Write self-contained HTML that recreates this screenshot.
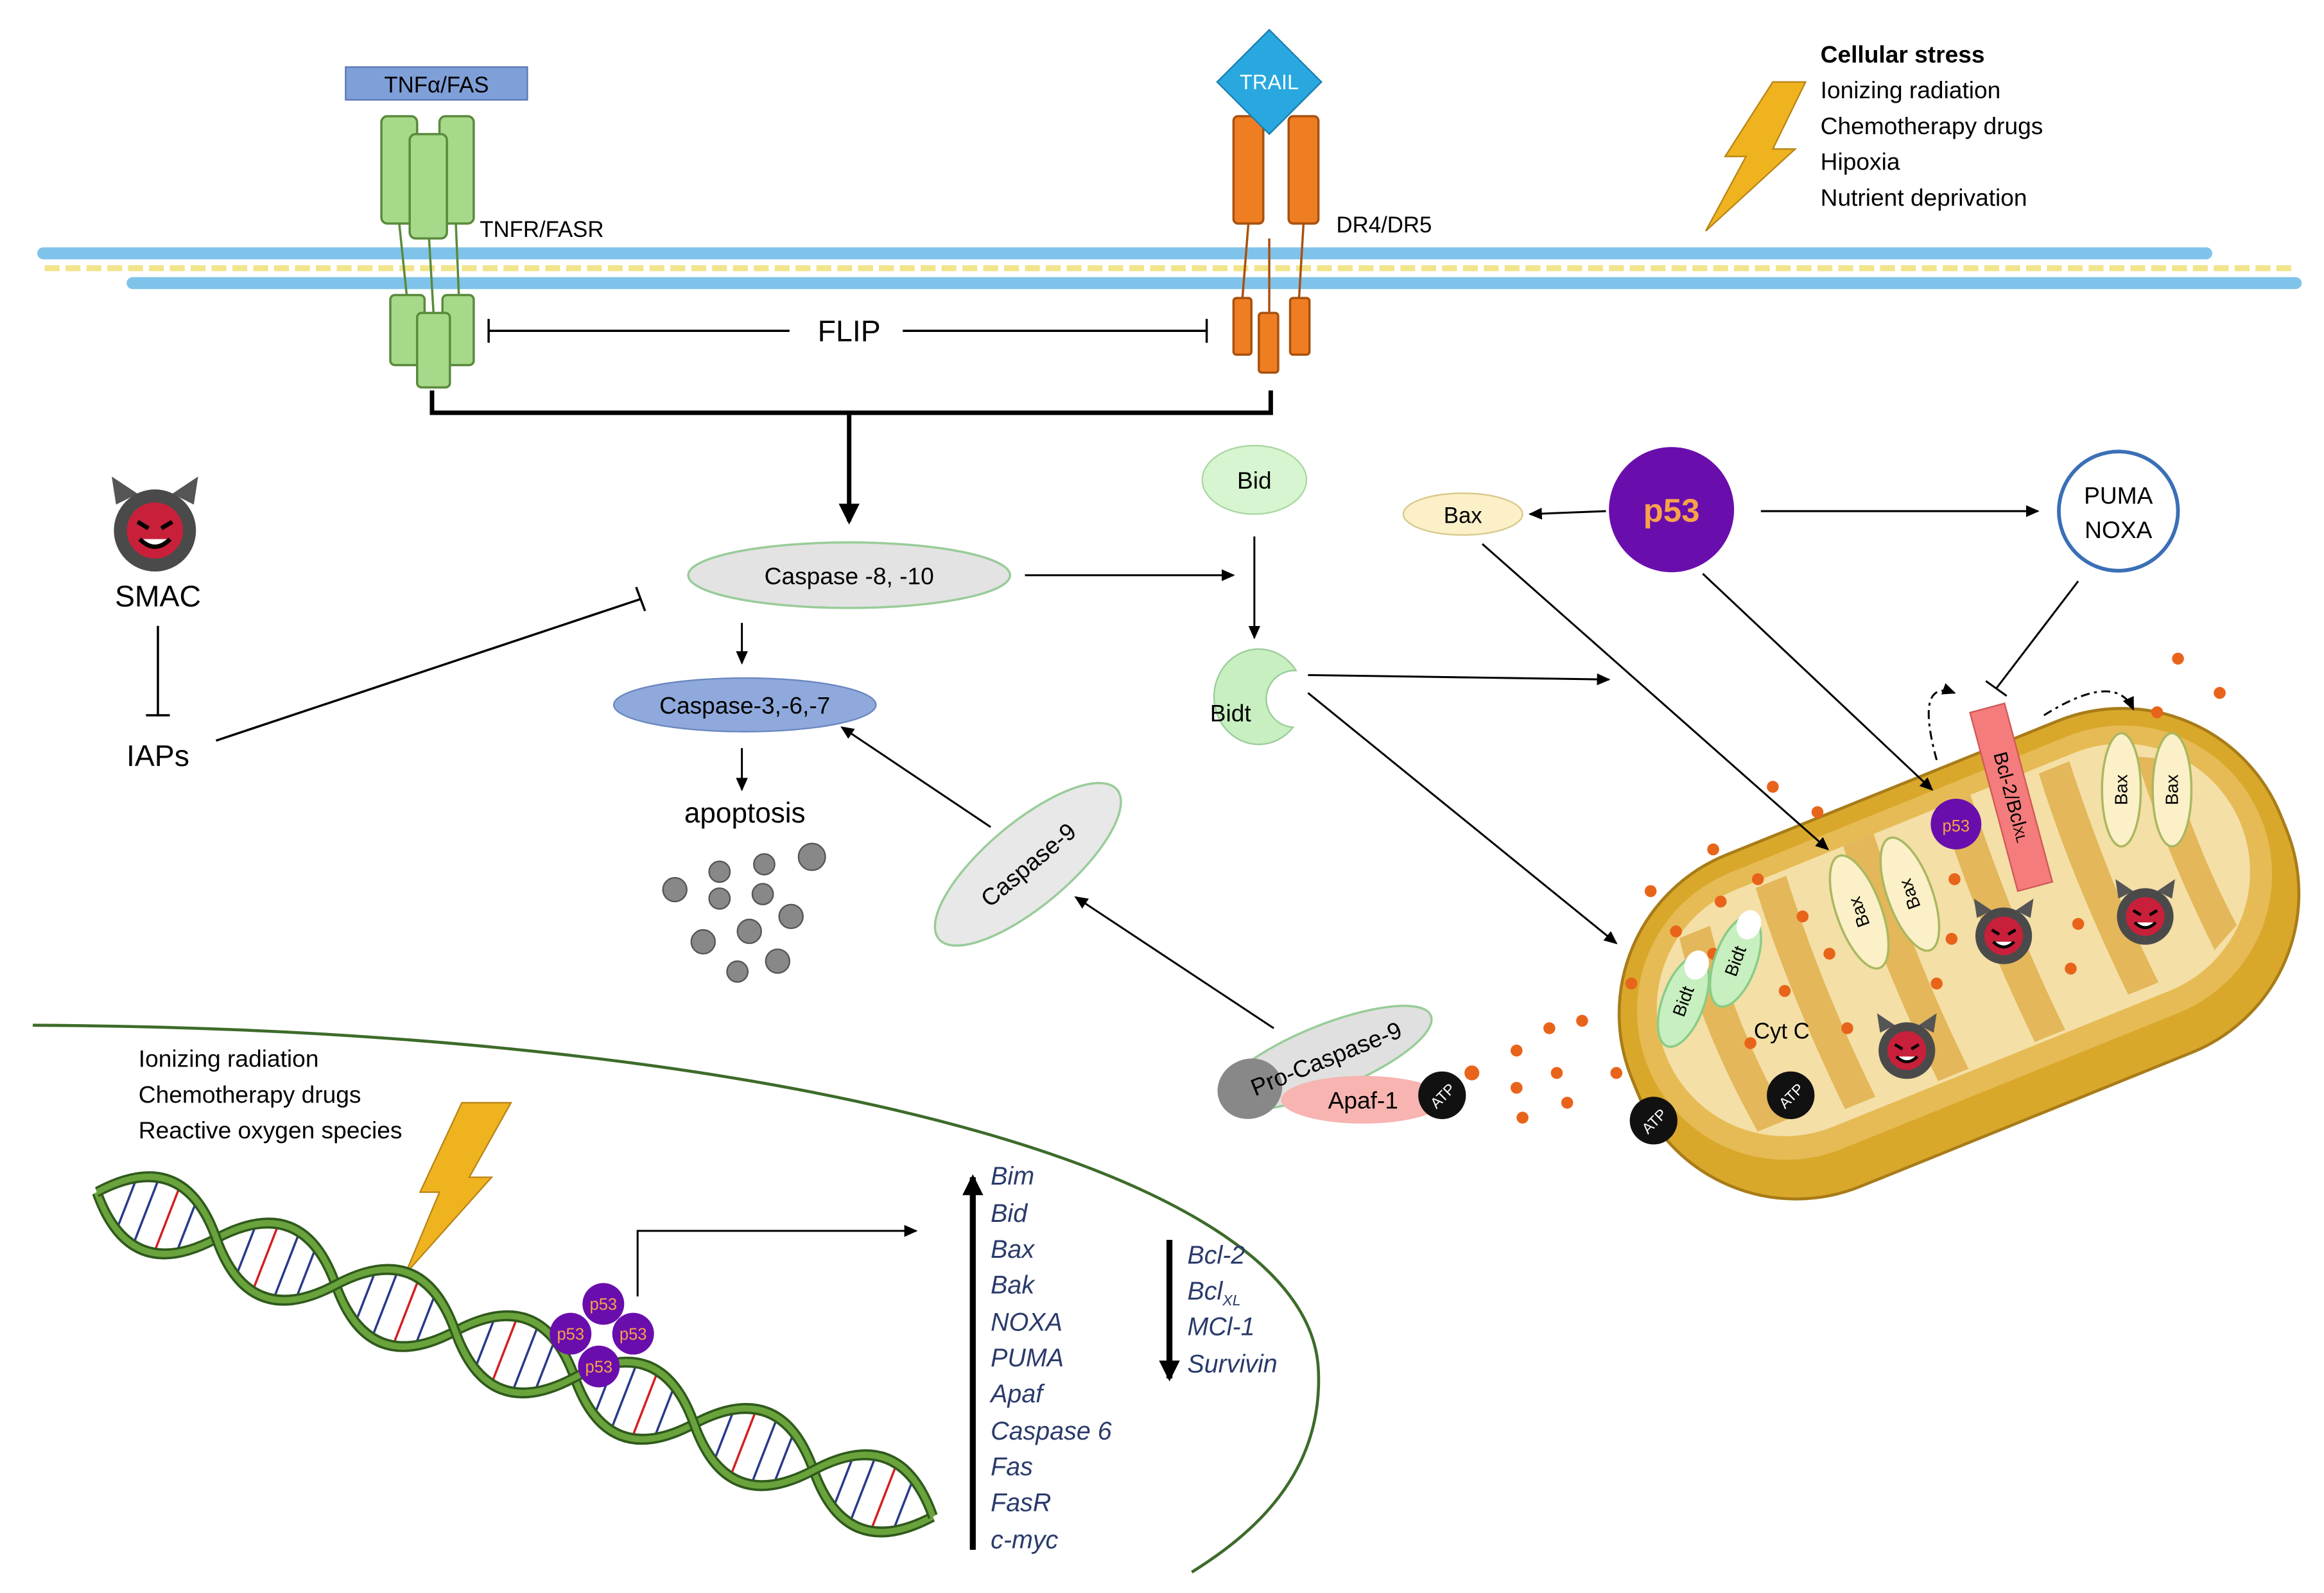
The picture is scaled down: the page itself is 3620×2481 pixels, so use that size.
<!DOCTYPE html>
<html><head><meta charset="utf-8"><style>
html,body{margin:0;padding:0;background:#fff;}
svg{display:block;}
text{font-family:"Liberation Sans",sans-serif;}
</style></head><body>
<svg width="3620" height="2481" viewBox="0 0 1560 1069" preserveAspectRatio="none" xmlns="http://www.w3.org/2000/svg">
<defs>
<marker id="ah" markerWidth="10" markerHeight="10" refX="8" refY="5" orient="auto" markerUnits="userSpaceOnUse"><path d="M0,1 L9,5 L0,9 Z" fill="#000"/></marker>
<marker id="ahb" markerWidth="16" markerHeight="16" refX="12" refY="8" orient="auto" markerUnits="userSpaceOnUse"><path d="M0,1 L14,8 L0,15 Z" fill="#000"/></marker>
<g id="devil"><path d="M-18,-12 L-20,-25 L-8,-17 Z M18,-12 L20,-25 L8,-17 Z" fill="#555"/><circle r="19" fill="#4a4a4a"/><circle r="13" fill="#c8203a"/><path d="M-8,-4 L-3,-1 M8,-4 L3,-1" stroke="#000" stroke-width="2"/><path d="M-7,4 Q0,11 7,4" stroke="#000" stroke-width="2" fill="#fff"/></g>
<g id="atp"><circle r="16" fill="#111"/><text x="0" y="4" font-size="10" fill="#fff" text-anchor="middle" transform="rotate(-45)">ATP</text></g>
</defs>

<rect x="25" y="166" width="1460" height="8" rx="4" fill="#7fc3ea"/>
<rect x="85" y="186" width="1460" height="8" rx="4" fill="#7fc3ea"/>
<line x1="30" y1="180" x2="1540" y2="180" stroke="#f1e48a" stroke-width="4" stroke-dasharray="10 4"/>

<rect x="232" y="45" width="122" height="22" fill="#7f9fd8" stroke="#5a78b8"/>
<text x="293" y="62" font-size="15" text-anchor="middle">TNFα/FAS</text>
<g fill="#a6d98a" stroke="#5a8a3c" stroke-width="1.5">
<line x1="268" y1="150" x2="273" y2="198"/><line x1="288" y1="160" x2="291" y2="210"/><line x1="306" y1="150" x2="308" y2="198"/>
<rect x="256" y="78" width="24" height="72" rx="4"/><rect x="295" y="78" width="23" height="72" rx="4"/><rect x="275" y="90" width="25" height="70" rx="4"/>
<rect x="262" y="198" width="23" height="47" rx="3"/><rect x="297" y="198" width="21" height="47" rx="3"/><rect x="280" y="210" width="22" height="50" rx="3"/>
</g>
<text x="322" y="159" font-size="15">TNFR/FASR</text>

<g fill="#ef7d22" stroke="#a8510f" stroke-width="1.5">
<line x1="838" y1="150" x2="834" y2="200"/><line x1="852" y1="160" x2="852" y2="210"/><line x1="875" y1="150" x2="872" y2="200"/>
<rect x="828" y="78" width="20" height="72" rx="3"/><rect x="865" y="78" width="20" height="72" rx="3"/>
<rect x="828" y="200" width="12" height="38" rx="2"/><rect x="845" y="210" width="13" height="40" rx="2"/><rect x="866" y="200" width="13" height="38" rx="2"/>
</g>
<path d="M852,20 L887,55 L852,90 L817,55 Z" fill="#29a8e0" stroke="#1a7fb0"/>
<text x="852" y="60" font-size="14" text-anchor="middle" fill="#fff">TRAIL</text>
<text x="897" y="156" font-size="15">DR4/DR5</text>

<g stroke="#000" stroke-width="1.5">
<line x1="328" y1="222" x2="530" y2="222"/><line x1="328" y1="214" x2="328" y2="230"/>
<line x1="606" y1="222" x2="810" y2="222"/><line x1="810" y1="214" x2="810" y2="230"/>
</g>
<text x="570" y="229" font-size="20" text-anchor="middle">FLIP</text>
<path d="M290,262 L290,277 L853,277 L853,262" fill="none" stroke="#000" stroke-width="3"/>
<line x1="570" y1="277" x2="570" y2="350" stroke="#000" stroke-width="3" marker-end="url(#ahb)"/>

<path d="M1190,55 L1212,55 L1190,100 L1205,100 L1145,155 L1172,105 L1158,105 Z" fill="#f0b320" stroke="#b98515"/>
<text x="1222" y="42" font-size="16" font-weight="bold">Cellular stress</text>
<text x="1222" y="66" font-size="16">Ionizing radiation</text>
<text x="1222" y="90" font-size="16">Chemotherapy drugs</text>
<text x="1222" y="114" font-size="16">Hipoxia</text>
<text x="1222" y="138" font-size="16">Nutrient deprivation</text>

<g transform="translate(104,356) scale(1.45)"><use href="#devil"/></g>
<text x="106" y="407" font-size="20" text-anchor="middle">SMAC</text>
<g stroke="#000" stroke-width="1.5">
<line x1="106" y1="420" x2="106" y2="480"/><line x1="98" y1="480" x2="114" y2="480"/>
<line x1="145" y1="497" x2="430" y2="402"/><line x1="427" y1="394" x2="433" y2="410"/>
</g>
<text x="106" y="514" font-size="20" text-anchor="middle">IAPs</text>

<ellipse cx="570" cy="386" rx="108" ry="22" fill="#e3e3e3" stroke="#9c9" stroke-width="1.5"/>
<text x="570" y="392" font-size="16" text-anchor="middle">Caspase -8, -10</text>
<line x1="688" y1="386" x2="828" y2="386" stroke="#000" stroke-width="1.3" marker-end="url(#ah)"/>
<line x1="498" y1="418" x2="498" y2="445" stroke="#000" stroke-width="1.3" marker-end="url(#ah)"/>
<ellipse cx="500" cy="473" rx="88" ry="18" fill="#8fa9dc" stroke="#6a86c0"/>
<text x="500" y="479" font-size="16" text-anchor="middle">Caspase-3,-6,-7</text>
<line x1="498" y1="502" x2="498" y2="530" stroke="#000" stroke-width="1.3" marker-end="url(#ah)"/>
<text x="500" y="552" font-size="19" text-anchor="middle">apoptosis</text>
<g fill="#888" stroke="#555">
<circle cx="453" cy="597" r="8"/><circle cx="483" cy="585" r="7"/><circle cx="513" cy="580" r="7"/><circle cx="545" cy="575" r="9"/>
<circle cx="483" cy="603" r="7"/><circle cx="512" cy="600" r="7"/><circle cx="472" cy="632" r="8"/><circle cx="503" cy="625" r="8"/>
<circle cx="531" cy="615" r="8"/><circle cx="495" cy="652" r="7"/><circle cx="522" cy="645" r="8"/>
</g>

<ellipse cx="842" cy="322" rx="35" ry="23" fill="#d6f5d0" stroke="#a8d8a0"/>
<text x="842" y="328" font-size="16" text-anchor="middle">Bid</text>
<line x1="842" y1="360" x2="842" y2="428" stroke="#000" stroke-width="1.3" marker-end="url(#ah)"/>
<path d="M870,450 A30,32 0 1 0 868,488 A16,16 0 0 1 870,450 Z" fill="#c8efc0" stroke="#9c9"/>
<text x="826" y="484" font-size="16" text-anchor="middle">Bidt</text>

<ellipse cx="982" cy="345" rx="40" ry="14" fill="#fbf0c8" stroke="#d8c888"/>
<text x="982" y="351" font-size="15" text-anchor="middle">Bax</text>
<line x1="1078" y1="343" x2="1027" y2="345" stroke="#000" stroke-width="1.3" marker-end="url(#ah)"/>
<circle cx="1122" cy="342" r="42" fill="#6a0dad"/>
<text x="1122" y="350" font-size="22" font-weight="bold" fill="#f7a24a" text-anchor="middle">p53</text>
<line x1="1182" y1="343" x2="1368" y2="343" stroke="#000" stroke-width="1.3" marker-end="url(#ah)"/>
<circle cx="1422" cy="343" r="40" fill="#fff" stroke="#3b6fb6" stroke-width="2.5"/>
<text x="1422" y="338" font-size="16" text-anchor="middle">PUMA</text>
<text x="1422" y="361" font-size="16" text-anchor="middle">NOXA</text>
<g stroke="#000" stroke-width="1.3"><line x1="1395" y1="390" x2="1340" y2="462"/><line x1="1333" y1="457" x2="1347" y2="467"/></g>

<g transform="translate(1315,640) rotate(-22)">
<rect x="-235" y="-120" width="470" height="240" rx="115" fill="#d9a82b" stroke="#a87c18" stroke-width="2"/>
<rect x="-222" y="-108" width="444" height="200" rx="100" fill="#e6bb55"/>
<rect x="-208" y="-96" width="416" height="172" rx="86" fill="#f4dfa6"/>
<g fill="#e3b75a">
<path d="M-170,-80 q-10,60 0,140 l22,0 q-10,-70 0,-140 z"/>
<path d="M-110,-92 q-6,70 0,160 l22,0 q-6,-80 0,-160 z"/>
<path d="M-45,-96 q-6,80 0,170 l22,0 q-6,-80 0,-170 z"/>
<path d="M25,-96 q-6,80 0,170 l22,0 q-6,-80 0,-170 z"/>
<path d="M95,-92 q-6,70 0,160 l22,0 q-6,-70 0,-160 z"/>
<path d="M160,-78 q-6,60 0,140 l20,-10 q-6,-60 0,-120 z"/>
</g>
</g>

<g fill="#e8641a">
<circle cx="1462" cy="442" r="4"/><circle cx="1490" cy="465" r="4"/><circle cx="1448" cy="478" r="4"/><circle cx="1190" cy="528" r="4"/><circle cx="1220" cy="545" r="4"/>
<circle cx="1150" cy="570" r="4"/><circle cx="1180" cy="590" r="4"/><circle cx="1108" cy="598" r="4"/><circle cx="1155" cy="605" r="4"/><circle cx="1125" cy="625" r="4"/>
<circle cx="1210" cy="615" r="4"/><circle cx="1095" cy="660" r="4"/><circle cx="1150" cy="640" r="4"/><circle cx="1228" cy="640" r="4"/><circle cx="1198" cy="665" r="4"/>
<circle cx="1062" cy="685" r="4"/><circle cx="1040" cy="690" r="4"/><circle cx="1018" cy="705" r="4"/><circle cx="1045" cy="720" r="4"/><circle cx="1018" cy="730" r="4"/>
<circle cx="1052" cy="740" r="4"/><circle cx="1022" cy="750" r="4"/><circle cx="1085" cy="720" r="4"/><circle cx="1175" cy="700" r="4"/><circle cx="1240" cy="690" r="4"/>
<circle cx="1300" cy="660" r="4"/><circle cx="1310" cy="630" r="4"/><circle cx="1395" cy="620" r="4"/><circle cx="1390" cy="650" r="4"/><circle cx="1312" cy="590" r="4"/>
<circle cx="988" cy="720" r="5"/>
</g>

<g transform="translate(1350,535) rotate(-15)"><rect x="-12" y="-62" width="24" height="124" fill="#f47c7c" stroke="#d05858"/><text x="0" y="0" font-size="13" text-anchor="middle" transform="rotate(90) translate(0,4)">Bcl-2/Bcl<tspan font-size="9">XL</tspan></text></g>
<path d="M1300,510 Q1285,455 1312,465" fill="none" stroke="#000" stroke-width="1.3" stroke-dasharray="6 3 2 3" marker-end="url(#ah)"/>
<path d="M1372,480 Q1420,450 1432,476" fill="none" stroke="#000" stroke-width="1.3" stroke-dasharray="6 3 2 3" marker-end="url(#ah)"/>
<circle cx="1313" cy="553" r="17" fill="#6a0dad"/><text x="1313" y="558" font-size="11" fill="#f7a24a" text-anchor="middle">p53</text>

<g fill="#fbf0c8" stroke="#aab860" stroke-width="1.5" font-size="12">
<g transform="translate(1424,530)"><ellipse rx="13" ry="38"/><text transform="rotate(-90)" y="4" text-anchor="middle" stroke="none" fill="#000">Bax</text></g>
<g transform="translate(1458,530)"><ellipse rx="13" ry="38"/><text transform="rotate(-90)" y="4" text-anchor="middle" stroke="none" fill="#000">Bax</text></g>
<g transform="translate(1248,612) rotate(-20)"><ellipse rx="15" ry="40"/><text transform="rotate(-90)" y="4" text-anchor="middle" stroke="none" fill="#000">Bax</text></g>
<g transform="translate(1282,600) rotate(-20)"><ellipse rx="15" ry="40"/><text transform="rotate(-90)" y="4" text-anchor="middle" stroke="none" fill="#000">Bax</text></g>
</g>
<g fill="#c8efc0" stroke="#8c8" stroke-width="1.5" font-size="12">
<g transform="translate(1130,672) rotate(20)"><ellipse rx="14" ry="32"/><ellipse cy="-26" rx="8" ry="10" fill="#fff" stroke="none"/><text transform="rotate(-90)" y="4" text-anchor="middle" stroke="none" fill="#000">Bidt</text></g>
<g transform="translate(1165,645) rotate(20)"><ellipse rx="14" ry="32"/><ellipse cy="-26" rx="8" ry="10" fill="#fff" stroke="none"/><text transform="rotate(-90)" y="4" text-anchor="middle" stroke="none" fill="#000">Bidt</text></g>
</g>
<use href="#devil" x="1345" y="628"/><use href="#devil" x="1440" y="615"/><use href="#devil" x="1280" y="705"/>
<text x="1196" y="697" font-size="15" text-anchor="middle">Cyt C</text>
<use href="#atp" x="1110" y="752"/><use href="#atp" x="1202" y="735"/>

<line x1="878" y1="453" x2="1080" y2="456" stroke="#000" stroke-width="1.3" marker-end="url(#ah)"/>
<line x1="878" y1="465" x2="1085" y2="633" stroke="#000" stroke-width="1.3" marker-end="url(#ah)"/>
<line x1="995" y1="365" x2="1227" y2="570" stroke="#000" stroke-width="1.3" marker-end="url(#ah)"/>
<line x1="1143" y1="385" x2="1297" y2="530" stroke="#000" stroke-width="1.3" marker-end="url(#ah)"/>

<g transform="translate(690,580) rotate(-40)"><ellipse rx="78" ry="28" fill="#e8e8e8" stroke="#9c9" stroke-width="1.5"/><text y="6" font-size="16" text-anchor="middle">Caspase-9</text></g>
<line x1="665" y1="555" x2="565" y2="488" stroke="#000" stroke-width="1.3" marker-end="url(#ah)"/>
<line x1="855" y1="690" x2="722" y2="602" stroke="#000" stroke-width="1.3" marker-end="url(#ah)"/>
<g transform="translate(890,710) rotate(-22)"><ellipse rx="76" ry="22" fill="#e0e0e0" stroke="#9c9" stroke-width="1.5"/><ellipse cx="-55" rx="22" ry="20" fill="#888"/><text y="6" font-size="16" text-anchor="middle">Pro-Caspase-9</text></g>
<ellipse cx="915" cy="738" rx="55" ry="16" fill="#f7b4b0"/>
<text x="915" y="744" font-size="16" text-anchor="middle">Apaf-1</text>
<use href="#atp" x="968" y="735"/>

<path d="M22,688 C500,690 880,780 885,920 C888,990 840,1030 800,1055" fill="none" stroke="#3d6b2a" stroke-width="2"/>
<text x="93" y="716" font-size="16">Ionizing radiation</text>
<text x="93" y="740" font-size="16">Chemotherapy drugs</text>
<text x="93" y="764" font-size="16">Reactive oxygen species</text>
<path d="M310,740 L343,740 L315,790 L330,790 L272,855 L295,800 L282,800 Z" fill="#f0b320" stroke="#b98515"/>

<g transform="translate(65,800) rotate(21.2) scale(1.075,1.25)">
<g stroke-width="1.4">
<g stroke="#2a3a8a">
<line x1="20" y1="-14" x2="20" y2="14"/><line x1="33" y1="-19" x2="33" y2="19"/><line x1="60" y1="-14" x2="60" y2="14"/>
<line x1="100" y1="-14" x2="100" y2="14"/><line x1="127" y1="-19" x2="127" y2="19"/><line x1="140" y1="-14" x2="140" y2="14"/>
<line x1="180" y1="-14" x2="180" y2="14"/><line x1="193" y1="-19" x2="193" y2="19"/><line x1="220" y1="-14" x2="220" y2="14"/>
<line x1="260" y1="-14" x2="260" y2="14"/><line x1="287" y1="-19" x2="287" y2="19"/><line x1="300" y1="-14" x2="300" y2="14"/>
<line x1="340" y1="-14" x2="340" y2="14"/><line x1="353" y1="-19" x2="353" y2="19"/><line x1="380" y1="-14" x2="380" y2="14"/>
<line x1="420" y1="-14" x2="420" y2="14"/><line x1="447" y1="-19" x2="447" y2="19"/><line x1="460" y1="-14" x2="460" y2="14"/>
<line x1="500" y1="-14" x2="500" y2="14"/><line x1="513" y1="-19" x2="513" y2="19"/><line x1="540" y1="-14" x2="540" y2="14"/>
</g>
<g stroke="#d42020">
<line x1="47" y1="-19" x2="47" y2="19"/><line x1="113" y1="-19" x2="113" y2="19"/><line x1="207" y1="-19" x2="207" y2="19"/>
<line x1="273" y1="-19" x2="273" y2="19"/><line x1="367" y1="-19" x2="367" y2="19"/><line x1="433" y1="-19" x2="433" y2="19"/><line x1="527" y1="-19" x2="527" y2="19"/>
</g>
</g>
<path d="M0,0 Q40,40 80,0 T160,0 T240,0 T320,0 T400,0 T480,0 T560,0" fill="none" stroke="#2f5a1c" stroke-width="6"/>
<path d="M0,0 Q40,40 80,0 T160,0 T240,0 T320,0 T400,0 T480,0 T560,0" fill="none" stroke="#6aa33c" stroke-width="3.4"/>
<path d="M0,0 Q40,-40 80,0 T160,0 T240,0 T320,0 T400,0 T480,0 T560,0" fill="none" stroke="#2f5a1c" stroke-width="6"/>
<path d="M0,0 Q40,-40 80,0 T160,0 T240,0 T320,0 T400,0 T480,0 T560,0" fill="none" stroke="#6aa33c" stroke-width="3.4"/>
</g>
<g fill="#6a0dad"><circle cx="405" cy="875" r="14"/><circle cx="383" cy="895" r="14"/><circle cx="425" cy="895" r="14"/><circle cx="402" cy="917" r="14"/></g>
<g font-size="11" fill="#f7a24a" text-anchor="middle"><text x="405" y="879">p53</text><text x="383" y="899">p53</text><text x="425" y="899">p53</text><text x="402" y="921">p53</text></g>
<path d="M428,870 L428,826 L615,826" fill="none" stroke="#000" stroke-width="1.3" marker-end="url(#ah)"/>

<line x1="653" y1="1040" x2="653" y2="790" stroke="#000" stroke-width="4" marker-end="url(#ahb)"/>
<g font-size="17" font-style="italic" fill="#2a3a6a">
<text x="665" y="795">Bim</text><text x="665" y="820">Bid</text><text x="665" y="844">Bax</text><text x="665" y="868">Bak</text>
<text x="665" y="893">NOXA</text><text x="665" y="917">PUMA</text><text x="665" y="941">Apaf</text><text x="665" y="966">Caspase 6</text>
<text x="665" y="990">Fas</text><text x="665" y="1014">FasR</text><text x="665" y="1039">c-myc</text>
<text x="797" y="848">Bcl-2</text><text x="797" y="872">Bcl<tspan font-size="10" dy="4">XL</tspan></text><text x="797" y="896">MCl-1</text><text x="797" y="921">Survivin</text>
</g>
<line x1="785" y1="832" x2="785" y2="925" stroke="#000" stroke-width="4" marker-end="url(#ahb)"/>
</svg>
</body></html>
